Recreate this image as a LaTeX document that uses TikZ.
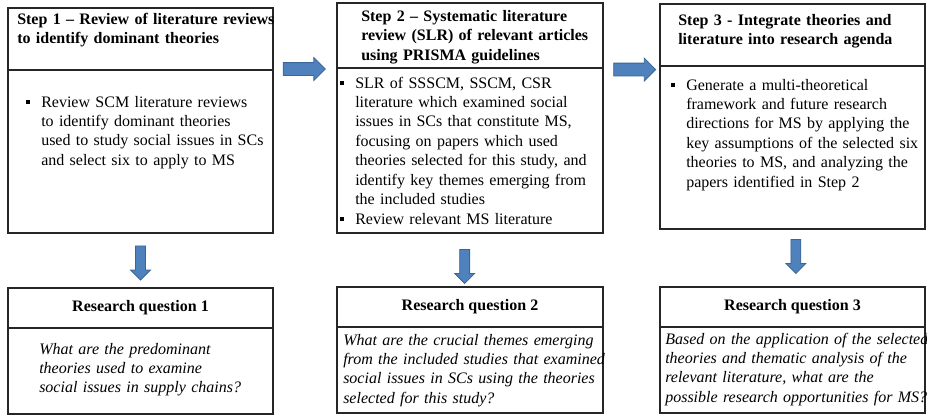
\documentclass[tikz,border=0pt]{standalone}
\usepackage{fontspec}
\setmainfont{Liberation Serif}
\usetikzlibrary{calc,shapes.arrows}
\definecolor{arrowfill}{HTML}{4F81BD}
\definecolor{arrowline}{HTML}{3A6596}
\newcommand\fs{\fontsize{12pt}{14.6pt}\selectfont}
\newcommand\bitem[2][11.25pt]{\lineskip=0pt\noindent\strut\makebox[#1][l]{\rule[2.4pt]{3pt}{3pt}}\parbox[t]{200pt}{#2\strut}\par}

\begin{document}
\begin{tikzpicture}[x=0.75pt,y=-0.75pt]
	\def\px{0.75pt}
	\useasboundingbox (0,0) rectangle (927,415);
	\tikzstyle{box}=[rectangle, draw=black!85, line width=1.5pt, anchor=north west, inner sep=0pt, outer sep=0pt, font=\fs\bfseries]
	\tikzstyle{txt}=[anchor=base west, inner sep=0pt, text width=300*\px, font=\fs]
	\tikzstyle{head}=[txt, font=\fs\bfseries]
	\tikzstyle{ques}=[txt, font=\fs\itshape]
	\tikzstyle{rarrow}=[single arrow, draw=arrowline, fill=arrowfill, line width=0.6pt, inner sep=4.5pt, single arrow head extend=3.75pt, minimum height=31.5pt, outer sep=0pt]
	\tikzstyle{darrow}=[rarrow, inner sep=3.4pt, minimum height=25.5pt, shape border rotate=270]
	\coordinate (S1) at (8,8);
	\coordinate (S2) at (337,3);
	\coordinate (S3) at (660,4);
	\coordinate (Q1) at (8,288);
	\coordinate (Q2) at (337,287);
	\coordinate (Q3) at (660,287);
	\node[box, minimum width=265*\px, minimum height=62*\px] (s1t) at (S1) {};
	\node[box, minimum width=265*\px, minimum height=163*\px] (s1b) at (s1t.south west) {};
	\node[box, minimum width=266*\px, minimum height=65*\px] (s2t) at (S2) {};
	\node[box, minimum width=266*\px, minimum height=165*\px] (s2b) at (s2t.south west) {};
	\node[box, minimum width=265*\px, minimum height=62*\px] (s3t) at (S3) {};
	\node[box, minimum width=265*\px, minimum height=163*\px] (s3b) at (s3t.south west) {};
	\node[head] (s1h) at ($(s1t.north west)+(9,16)$) {Step 1 – Review of literature reviews\\to identify dominant theories};
	\node[head] (s2h) at ($(s2t.north west)+(24,18.5)$) {Step 2 – Systematic literature\\review (SLR) of relevant articles\\using PRISMA guidelines};
	\node[head] (s3h) at ($(s3t.north west)+(18,21)$) {Step 3 - Integrate theories and\\literature into research agenda};
	\node[txt] (s1x) at ($(s1b.north west)+(18,37)$) {\bitem[11.25pt]{Review SCM literature reviews\\to identify dominant theories\\used to study social issues in SCs\\and select six to apply to MS}};
	\node[txt] (s2x) at ($(s2b.north west)+(3,20)$) {\bitem{SLR of SSSCM, SSCM, CSR\\literature which examined social\\issues in SCs that constitute MS,\\focusing on papers which used\\theories selected for this study, and\\identify key themes emerging from\\the included studies}\bitem{Review relevant MS literature}};
	\node[txt] (s3x) at ($(s3b.north west)+(11,24)$) {\bitem{Generate a multi-theoretical\\framework and future research\\directions for MS by applying the\\key assumptions of the selected six\\theories to MS, and analyzing the\\papers identified in Step 2}};
	\node[box, minimum width=265*\px, minimum height=40*\px] (q1t) at (Q1) {Research question 1};
	\node[box, minimum width=265*\px, minimum height=86*\px] (q1b) at (q1t.south west) {};
	\node[box, minimum width=266*\px, minimum height=40*\px] (q2t) at (Q2) {Research question 2};
	\node[box, minimum width=266*\px, minimum height=86*\px] (q2b) at (q2t.south west) {};
	\node[box, minimum width=265*\px, minimum height=40*\px] (q3t) at (Q3) {Research question 3};
	\node[box, minimum width=265*\px, minimum height=86*\px] (q3b) at (q3t.south west) {};
	\node[ques] (q1x) at ($(q1b.north west)+(31,26)$) {What are the predominant\\theories used to examine\\social issues in supply chains?};
	\node[ques] (q2x) at ($(q2b.north west)+(6,18)$) {What are the crucial themes emerging\\from the included studies that examined\\social issues in SCs using the theories\\selected for this study?};
	\node[ques] (q3x) at ($(q3b.north west)+(5,17)$) {Based on the application of the selected\\theories and thematic analysis of the\\relevant literature, what are the\\possible research opportunities for MS?};
	\node[rarrow, xshift=-3pt] (a12) at ($(s1t.south east)!0.5!(s2t.south west)$) {};
	\node[rarrow, xshift=0pt, yshift=-1.9pt] (a23) at ($(s2t.south east)!0.5!(s3t.south west)$) {};
	\node[darrow] (d1) at ($(s1b.south)!0.5!(q1t.north)$) {};
	\node[darrow, xshift=-4pt, yshift=-3pt] (d2) at ($(s2b.south)!0.5!(q2t.north)$) {};
	\node[darrow, xshift=2.5pt, yshift=3pt] (d3) at ($(s3b.south)!0.5!(q3t.north)$) {};
\end{tikzpicture}
\end{document}
